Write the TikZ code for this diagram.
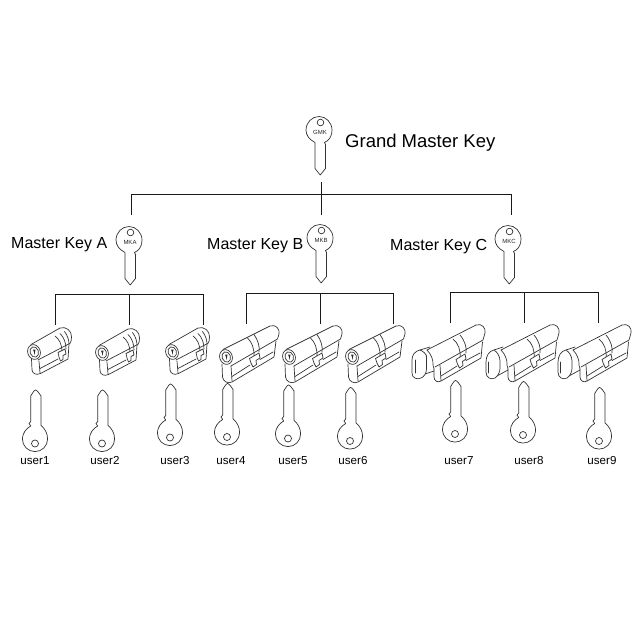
\documentclass[tikz,border=0pt]{standalone}
\usepackage{fontspec}
\setmainfont{Liberation Sans}
\tikzset{
  x=1pt,y=-1pt,
  conn/.style={draw=black!90,line width=0.9pt},
  ink/.style={draw=black!80,line width=0.7pt,line join=round,line cap=round},
  title/.style={inner sep=0pt,font=\fontsize{18.5}{20}\selectfont},
  mlabel/.style={inner sep=0pt,font=\fontsize{16}{18}\selectfont},
  ulabel/.style={inner sep=0pt,font=\fontsize{11.6}{13}\selectfont},
  pics/mkey/.style={code={
    \draw[ink] (-4,14) -- (-4,12.5) .. controls (-10,9.5) and (-13,5) .. (-13,0)
      .. controls (-13,-7.5) and (-7,-13.5) .. (0,-13.5)
      .. controls (7,-13.5) and (13,-7.5) .. (13,0)
      .. controls (13,5) and (11,9) .. (8,11) -- (5.5,12.5) -- (6.5,14.5)
      -- (6.5,38.5) -- (1.2,45) -- (-4,38.5) -- cycle;
    \draw[ink] (1.5,-7.5) circle[radius=3.3];
    \node[inner sep=0pt,font=\fontsize{6}{6}\selectfont,text=black!85] at (1,2.5) {#1};
  }},
  pics/ukey/.style={code={
    \draw[ink] (-4.3,-43) .. controls (-2.5,-45.5) and (-1,-49) .. (0.5,-49)
      .. controls (2,-49) and (4,-46) .. (6,-43)
      -- (6,-13.5) .. controls (10,-10.5) and (12.6,-5.5) .. (12.6,0)
      .. controls (12.6,7) and (7,12.6) .. (0,12.6)
      .. controls (-7,12.6) and (-12.6,7) .. (-12.6,0)
      .. controls (-12.6,-5.5) and (-9,-10.5) .. (-4.3,-13)
      -- (-6,-15.5) -- (-4.3,-17.5) -- cycle;
    \draw[ink] (0,4.5) circle[radius=3.5];
  }},
  pics/keyway/.style={code={
    \draw[ink] (0,0) ellipse[x radius=6.3,y radius=7.5,rotate=20];
    \draw[ink] (0.3,0) ellipse[x radius=4.2,y radius=5.3,rotate=20];
    \fill[black!85] (-1,-2.5) -- (1.5,-2.5) -- (1,0) -- (0.5,3) -- (0,0) -- cycle;
  }},
  pics/hcyl/.style={code={
    \pic {keyway};
    \draw[ink] (-3,-7.5) -- (26,-24) .. controls (32,-26) and (38,-21) .. (37.5,-15)
      .. controls (37.5,-12) and (37,-10) .. (36,-8.7) -- (4,8);
    \draw[ink] (21,-16) .. controls (25,-13) and (28,-8) .. (28,0);
    \draw[ink] (26,-18.5) .. controls (30,-15) and (32,-9) .. (32,-3);
    \draw[ink] (30.5,-20.5) .. controls (34,-16) and (35,-11) .. (35,-8);
    \draw[ink] (-2.5,7) -- (-2,18) .. controls (-1.5,21.5) and (2,23.5) .. (6.5,21.5)
      -- (34,7) -- (35,-8);
    \draw[ink] (5,9) -- (6,21);
    \draw[ink] (6,16.5) -- (24,7);
    \draw[ink,fill=white] (24,0.5) -- (31,-3) -- (32,2) -- (29,3.5) -- (29,7.5) -- (26.5,9) -- (25,5) -- cycle;
  }},
  pics/fcyl/.style={code={
    \pic {keyway};
    \draw[ink] (-3,-7.5) -- (44,-31) .. controls (50,-33) and (54,-28) .. (53,-23)
      -- (51.5,-18) -- (5,9);
    \draw[ink] (21.5,-19) .. controls (26,-15) and (28.5,-8) .. (28,0);
    \draw[ink] (28,-22.5) .. controls (32,-17) and (34,-10) .. (33,-5);
    \draw[ink] (-4,7) -- (-3.5,20) .. controls (-3,24.5) and (2,27) .. (6,25)
      -- (48,0) -- (50,-16);
    \draw[ink] (5,9) -- (6,24);
    \draw[ink] (6,19.5) -- (24,8);
    \draw[ink] (34,2.5) -- (47,-5);
    \draw[ink,fill=white] (23.5,1.5) -- (33,-4) -- (34,1) -- (30,3.5) -- (30.5,7.5) -- (27,10) -- (25,6) -- cycle;
  }},
  pics/tcyl/.style={code={
    \draw[ink] (-6,-8) -- (43,-33) .. controls (49,-35) and (53,-30) .. (52,-25)
      -- (50,-18) -- (2,9);
    \draw[ink] (-6,-8) .. controls (-2,-4) and (0.5,2) .. (0,7) -- (1,11);
    \draw[ink] (20,-19) .. controls (25,-15) and (28,-8) .. (27,0);
    \draw[ink] (27,-23) .. controls (32,-17) and (34,-10) .. (33,-5);
    \draw[ink] (1,11) -- (1,19) .. controls (1,23) and (5,25) .. (8,23)
      -- (48,0) -- (49.5,-16);
    \draw[ink] (7,7) -- (8,23);
    \draw[ink] (8,18) -- (24,8);
    \draw[ink] (33,2.5) -- (47,-5);
    \draw[ink,fill=white] (23,1.5) -- (32,-4) -- (33,1) -- (29.5,3.5) -- (30,7.5) -- (26.5,10) -- (24.5,6) -- cycle;
  }},
  pics/knoba/.style={code={
    \draw[ink] (-13,-8) -- (-3,-11);
    \draw[ink] (-8,16) -- (1,13);
    \draw[ink,fill=white] (-13,-8) .. controls (-18,-7) and (-21,-3) .. (-21,2)
      -- (-21,15) .. controls (-21,20) and (-16,22) .. (-12,20)
      .. controls (-9,19) and (-6.5,15) .. (-6.5,11)
      -- (-6.5,-2) .. controls (-7,-4) and (-10,-7) .. (-13,-8);
    \draw[ink] (-18,2) -- (-18,15);
  }},
  pics/knobb/.style={code={
    \draw[ink] (-13,-8) -- (-4,-11);
    \draw[ink] (-10,18) -- (1,12);
    \draw[ink,fill=white] (-13,-8) .. controls (-18,-7) and (-21,-2) .. (-21,4)
      -- (-21,14) .. controls (-21,20) and (-16,22) .. (-12,20)
      .. controls (-9,18) and (-7,14) .. (-7,10)
      -- (-7,3) .. controls (-7,-2) and (-10,-6) .. (-13,-8);
    \draw[ink] (-18.5,4) -- (-18.5,15);
  }}
}
\begin{document}
\begin{tikzpicture}
\useasboundingbox (0,0) rectangle (640,640);
% tree anchors
\coordinate (gk) at (321,182);
\coordinate (gj) at (321,194);
\coordinate (gl) at (131,194);
\coordinate (gr) at (511,194);
\coordinate (la) at (131,215);
\coordinate (lb) at (321,215);
\coordinate (lc) at (511,215);
\coordinate (aj) at (129,294);
\coordinate (al) at (55,294);
\coordinate (ar) at (203,294);
\coordinate (a1) at (55,325);
\coordinate (a2) at (129,325);
\coordinate (a3) at (203,325);
\coordinate (bj) at (320,293);
\coordinate (bl) at (246,293);
\coordinate (br) at (393,293);
\coordinate (b1) at (246,324);
\coordinate (b2) at (320,324);
\coordinate (b3) at (393,324);
\coordinate (cj) at (524,292);
\coordinate (cl) at (450,292);
\coordinate (cr) at (598,292);
\coordinate (c1) at (450,323);
\coordinate (c2) at (524,323);
\coordinate (c3) at (598,323);
\draw[conn] (gk) -- (gj);
\draw[conn] (la) -- (gl) -- (gr) -- (lc);
\draw[conn] (gj) -- (lb);
\draw[conn] (a1) -- (al) -- (ar) -- (a3);
\draw[conn] (aj) -- (a2);
\draw[conn] (b1) -- (bl) -- (br) -- (b3);
\draw[conn] (bj) -- (b2);
\draw[conn] (c1) -- (cl) -- (cr) -- (c3);
\draw[conn] (cj) -- (c2);
% master keys
\pic at (319,130) {mkey=GMK};
\pic at (129,240) {mkey=MKA};
\pic at (320,238) {mkey=MKB};
\pic at (508,239) {mkey=MKC};
\node[title,anchor=west] (tg) at (345,143) {Grand Master Key};
\node[mlabel,anchor=west] (ta) at (11,245) {Master Key A};
\node[mlabel,anchor=west] (tb) at (207,246) {Master Key B};
\node[mlabel,anchor=west] (tc) at (390,247) {Master Key C};
% cylinders
\pic at (34,352) {hcyl};
\pic at (102,353) {hcyl};
\pic at (172,352) {hcyl};
\pic at (226,357) {fcyl};
\pic at (289,357) {fcyl};
\pic at (352,357) {fcyl};
\pic at (433,358) {tcyl};
\pic at (433,358) {knoba};
\pic at (507,358) {tcyl};
\pic at (507,358) {knobb};
\pic at (579,358) {tcyl};
\pic at (579,358) {knobb};
% user keys
\pic at (35,439) {ukey};
\pic at (102,439) {ukey};
\pic at (170,433) {ukey};
\pic at (227,432.5) {ukey};
\pic at (288,434) {ukey};
\pic at (350,436.5) {ukey};
\pic at (455,429.5) {ukey};
\pic at (523,430.5) {ukey};
\pic at (599,436.5) {ukey};
\node[ulabel] (u1) at (35,461) {user1};
\node[ulabel] (u2) at (105,461) {user2};
\node[ulabel] (u3) at (175,461) {user3};
\node[ulabel] (u4) at (231,461) {user4};
\node[ulabel] (u5) at (293,461) {user5};
\node[ulabel] (u6) at (353,461) {user6};
\node[ulabel] (u7) at (459,461) {user7};
\node[ulabel] (u8) at (529,461) {user8};
\node[ulabel] (u9) at (602,461) {user9};
\end{tikzpicture}
\end{document}
